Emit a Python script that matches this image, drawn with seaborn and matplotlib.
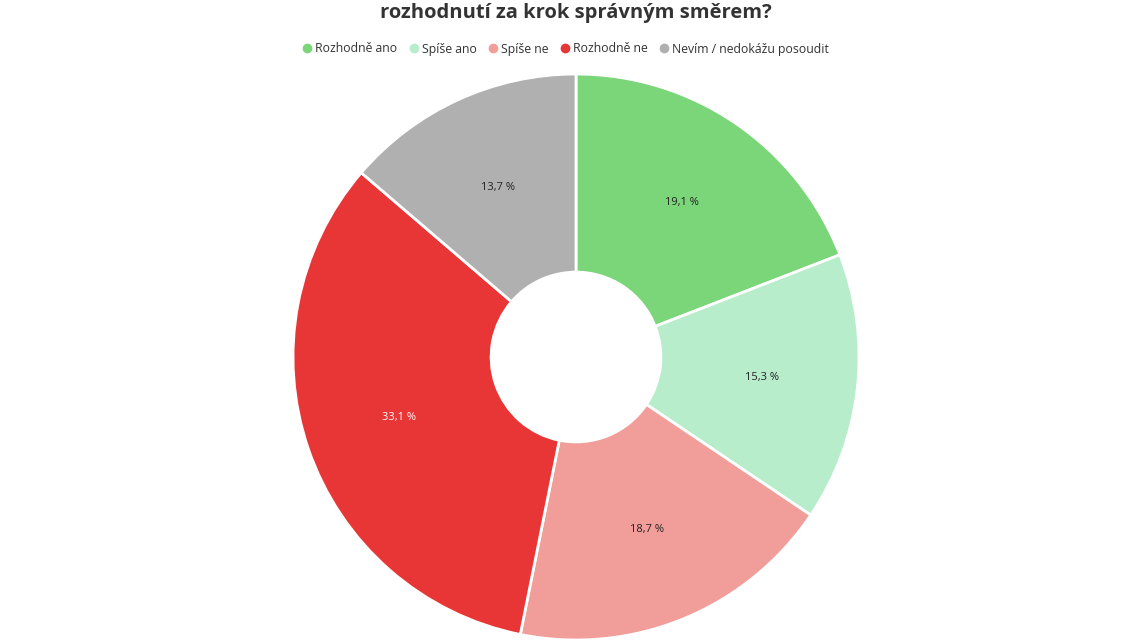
import matplotlib
matplotlib.use("Agg")
import matplotlib.pyplot as plt
import seaborn as sns
import numpy as np
from matplotlib.lines import Line2D

# data
categories = ['Rozhodně ano', 'Spíše ano', 'Spíše ne', 'Rozhodně ne', 'Nevím / nedokážu posoudit']
values = [19.1, 15.3, 18.7, 33.1, 13.7]
labels = ['19,1 %', '15,3 %', '18,7 %', '33,1 %', '13,7 %']
colors = ['#7bd67a', '#b8edcc', '#f19e9b', '#e83536', '#b0b0b0']
label_colors = ['#222222', '#222222', '#222222', 'white', '#222222']

sns.set_theme(style='white')
plt.rcParams['font.family'] = ['Open Sans', 'DejaVu Sans']

fig = plt.figure(figsize=(11.46, 6.44), dpi=100)
W, H = 1146, 644
cx, cy, R = 576, 357, 283
ax = fig.add_axes([(cx - R) / W, (H - cy - R) / H, 2 * R / W, 2 * R / H])

wedges, _ = ax.pie(values, colors=colors, startangle=90, counterclock=False,
                   radius=1, wedgeprops=dict(width=0.7, edgecolor='white', linewidth=2))

# labels in the middle of the ring
total = sum(values)
start = 90
for v, lab, lc in zip(values, labels, label_colors):
    mid = np.deg2rad(start - v / total * 360 / 2)
    start -= v / total * 360
    ax.text(0.66 * np.cos(mid), 0.66 * np.sin(mid), lab, ha='center', va='center',
            fontsize=8, color=lc)

ax.set_xlim(-1, 1)
ax.set_ylim(-1, 1)
ax.axis('off')

fig.text(cx / W, 1 - 13 / H, 'rozhodnutí za krok správným směrem?', ha='center', va='center',
         fontsize=14.5, fontweight='bold', color='#333333')

handles = [Line2D([], [], marker='o', linestyle='', markersize=6, markerfacecolor=c,
                  markeredgecolor=c) for c in colors]
fig.legend(handles, categories, loc='center', bbox_to_anchor=(566 / W, 1 - 49 / H), ncol=5,
           frameon=False, fontsize=8.8, handletextpad=0.3, columnspacing=1.0, handlelength=0.7,
           labelcolor='#333333')

fig.savefig('out.png', dpi=100)
